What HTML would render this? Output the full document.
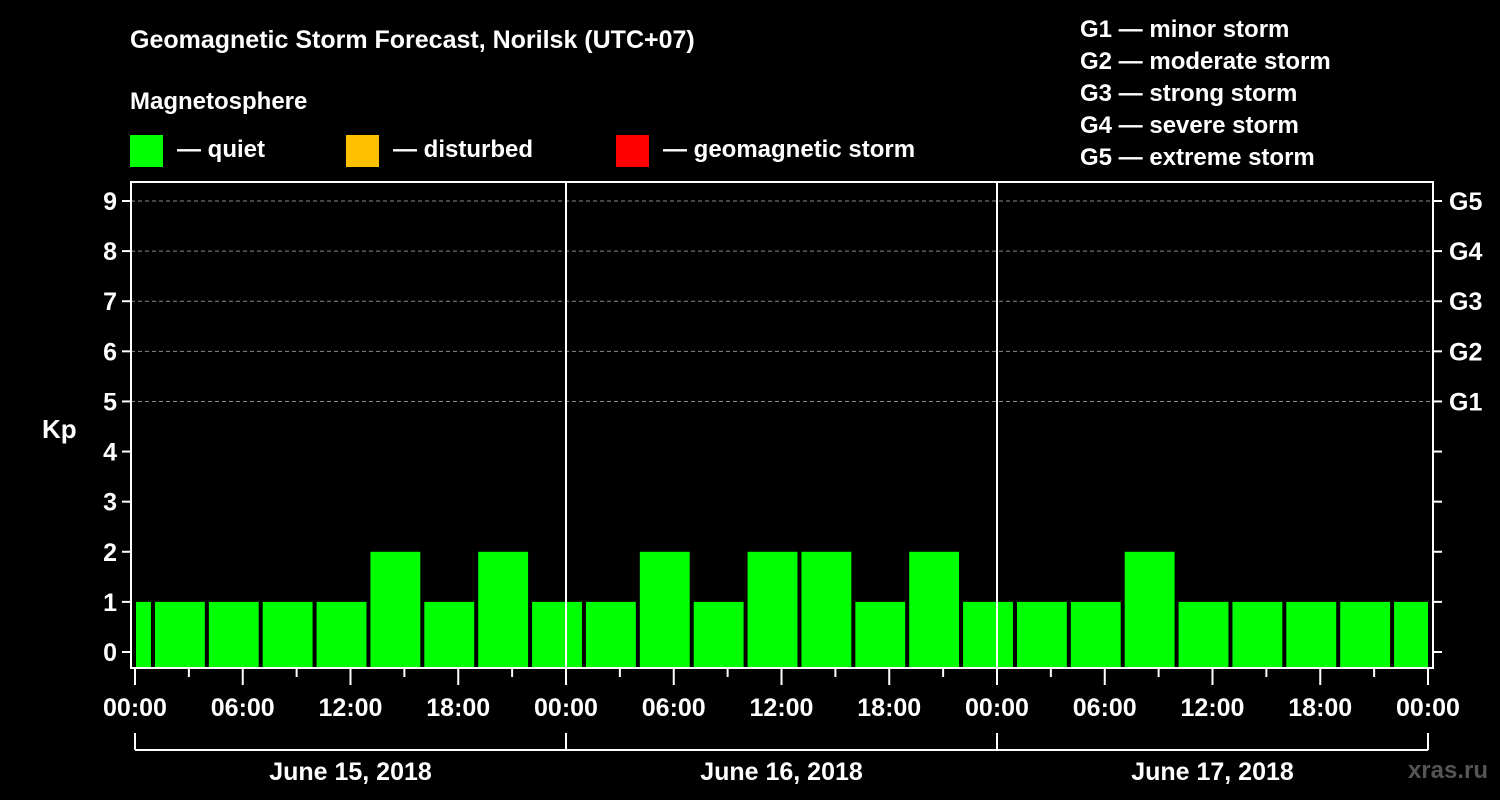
<!DOCTYPE html>
<html><head><meta charset="utf-8"><style>
body{margin:0;background:#000;}
svg{display:block;font-family:"Liberation Sans",sans-serif;font-weight:bold;}
</style></head><body>
<svg id="chart" width="1500" height="800" viewBox="0 0 1500 800">
<rect width="1500" height="800" fill="#000"/>
<text x="130" y="48" fill="#fff" font-size="25">Geomagnetic Storm Forecast, Norilsk (UTC+07)</text>
<text x="130" y="109" fill="#fff" font-size="24">Magnetosphere</text>
<g><rect x="130" y="135" width="33" height="32" fill="#00ff00"/><text x="177" y="157" fill="#fff" font-size="24">— quiet</text></g>
<g><rect x="346" y="135" width="33" height="32" fill="#ffc000"/><text x="393" y="157" fill="#fff" font-size="24">— disturbed</text></g>
<g><rect x="616" y="135" width="33" height="32" fill="#ff0000"/><text x="663" y="157" fill="#fff" font-size="24">— geomagnetic storm</text></g>
<g fill="#fff" font-size="24">
<text x="1080" y="37">G1 — minor storm</text>
<text x="1080" y="69">G2 — moderate storm</text>
<text x="1080" y="101">G3 — strong storm</text>
<text x="1080" y="133">G4 — severe storm</text>
<text x="1080" y="165">G5 — extreme storm</text>
</g>
<text x="42" y="438" fill="#fff" font-size="26">Kp</text>
<text x="1488" y="778" fill="#555" font-size="24" text-anchor="end">xras.ru</text>
<g id="plot"></g>
</svg>
<script>
const kpValues=[1,1,1,1,1,2,1,2,1,1,2,1,2,2,1,2,1,1,1,2,1,1,1,1,1];
const barStartHours=[-2,1,4,7,10,13,16,19,22,25,28,31,34,37,40,43,46,49,52,55,58,61,64,67,70];
const yTicks=[0,1,2,3,4,5,6,7,8,9];
const gLabels=["G1","G2","G3","G4","G5"];
const gLevels=[5,6,7,8,9];
const xTickLabels=["00:00","06:00","12:00","18:00","00:00","06:00","12:00","18:00","00:00","06:00","12:00","18:00","00:00"];
const dayLabels=["June 15, 2018","June 16, 2018","June 17, 2018"];
const NS="http://www.w3.org/2000/svg";
const X0=135,X1=1428,PL=131,PR=1433,PT=182,PB=668;
const x=h=>X0+(X1-X0)*h/72;
const y=v=>652-(652-201)*v/9;
const g=document.getElementById('plot');
function mk(t,a,p){const e=document.createElementNS(NS,t);for(const k in a)e.setAttribute(k,a[k]);(p||g).appendChild(e);return e;}
// grid
gLevels.forEach(v=>{const l=mk('line',{x1:PL,x2:PR,y1:y(v),y2:y(v),stroke:'#888','stroke-dasharray':'4,3','stroke-width':1});

});
// bars
kpValues.forEach((v,i)=>{const s=Math.max(0,barStartHours[i]),e=Math.min(72,barStartHours[i]+3);
const xa=x(s)+(barStartHours[i]>=0?2:1),xb=x(e)-(barStartHours[i]+3<=72?2:0);
const c=v>=5?'#ff0000':(v>=4?'#ffc000':'#00ff00');
const r=mk('rect',{x:xa,y:y(v),width:xb-xa,height:PB-y(v),fill:c});

});
// day separators
[24,48].forEach(h=>{const l=mk('line',{x1:x(h),x2:x(h),y1:PT,y2:PB,stroke:'#fff','stroke-width':2});

});
// frame
const f=mk('rect',{x:PL,y:PT,width:PR-PL,height:PB-PT,fill:'none',stroke:'#fff','stroke-width':2});


// y ticks
yTicks.forEach(v=>{mk('line',{x1:122,x2:PL,y1:y(v),y2:y(v),stroke:'#fff','stroke-width':2});
mk('line',{x1:PR,x2:1442,y1:y(v),y2:y(v),stroke:'#fff','stroke-width':2});
const t=mk('text',{x:117,y:y(v)+9,fill:'#fff','font-size':25,'text-anchor':'end'});t.textContent=v;

});
gLabels.forEach((s,i)=>{const t=mk('text',{x:1449,y:y(gLevels[i])+9,fill:'#fff','font-size':25});t.textContent=s;

});
// x ticks
for(let h=0;h<=72;h+=3){const major=h%6===0;mk('line',{x1:x(h),x2:x(h),y1:PB,y2:major?685:677,stroke:'#fff','stroke-width':2});}
xTickLabels.forEach((s,i)=>{const t=mk('text',{x:x(i*6),y:716,fill:'#fff','font-size':25,'text-anchor':'middle'});t.textContent=s;

});
// day brackets
mk('line',{x1:x(0),x2:x(72),y1:750,y2:750,stroke:'#fff','stroke-width':2});
[0,24,48,72].forEach(h=>mk('line',{x1:x(h),x2:x(h),y1:733,y2:750,stroke:'#fff','stroke-width':2}));
dayLabels.forEach((s,i)=>{const t=mk('text',{x:x(i*24+12),y:780,fill:'#fff','font-size':25,'text-anchor':'middle'});t.textContent=s;

});
</script>
</body></html>
